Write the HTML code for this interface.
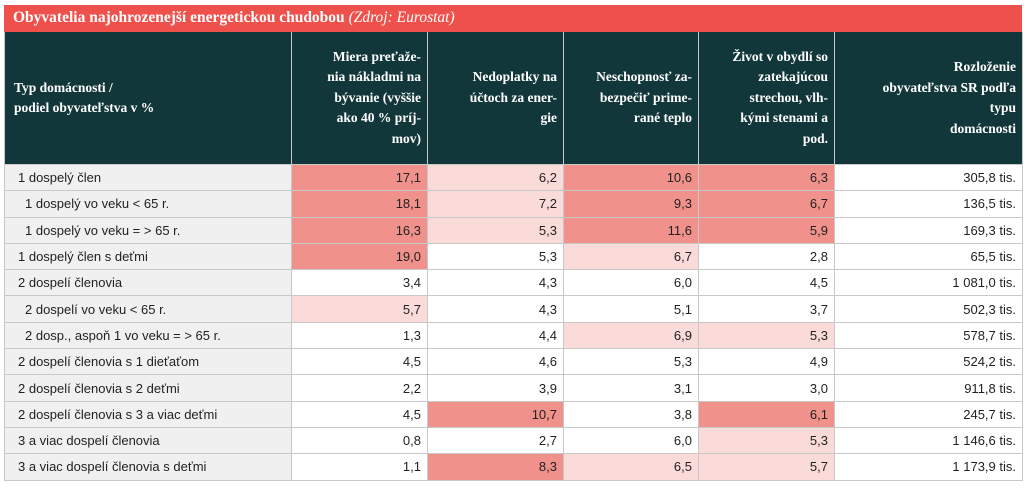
<!DOCTYPE html>
<html><head><meta charset="utf-8"><style>
body{margin:0;width:1024px;height:488px;background:#fff;overflow:hidden;position:relative}
.title{position:absolute;left:4px;top:5px;width:1018px;height:27px;background:#ee514b;color:#fff;font:bold 15.5px "Liberation Serif",serif;line-height:26px;box-sizing:border-box;padding-left:9px}
.title i{font-weight:normal}
table{position:absolute;left:4px;top:32px;border-collapse:collapse;table-layout:fixed;width:1018px}
th{background:#12373a;color:#fff;font:bold 13.5px "Liberation Serif",serif;line-height:20.5px;text-align:right;padding:0 6px;height:132px;border:1px solid #c8c8c8;border-top:none;vertical-align:middle}
th.first{text-align:left;padding-left:9px}
td{height:25.3px;padding:0 6px;font:13px "Liberation Sans",sans-serif;color:#222;text-align:right;border:1px solid #c8c8c8}
td.lab{text-align:left;background:#f0f0f0;padding-left:13px}
td.ind{padding-left:20px}
.s{background:#f1918b}.l{background:#fadbd9}
</style></head><body>
<div class="title">Obyvatelia najohrozenejší energetickou chudobou <i>(Zdroj: Eurostat)</i></div>
<table>
<colgroup><col style="width:287px"><col style="width:136px"><col style="width:136px"><col style="width:135px"><col style="width:136px"><col style="width:188px"></colgroup>
<thead><tr>
<th class="first">Typ domácnosti /<br>podiel obyvateľstva v %</th>
<th>Miera preťaže-<br>nia nákladmi na<br>bývanie (vyššie<br>ako 40 % príj-<br>mov)</th>
<th>Nedoplatky na<br>účtoch za ener-<br>gie</th>
<th>Neschopnosť za-<br>bezpečiť prime-<br>rané teplo</th>
<th>Život v obydlí so<br>zatekajúcou<br>strechou, vlh-<br>kými stenami a<br>pod.</th>
<th>Rozloženie<br>obyvateľstva SR podľa<br>typu<br>domácnosti</th>
</tr></thead>
<tbody id="tb"></tbody></table>
<script>
const labels=["1 dospelý člen","1 dospelý vo veku < 65 r.","1 dospelý vo veku = > 65 r.","1 dospelý člen s deťmi","2 dospelí členovia","2 dospelí vo veku < 65 r.","2 dosp., aspoň 1 vo veku = > 65 r.","2 dospelí členovia s 1 dieťaťom","2 dospelí členovia s 2 deťmi","2 dospelí členovia s 3 a viac deťmi","3 a viac dospelí členovia","3 a viac dospelí členovia s deťmi"];
const indent=[0,1,1,0,0,1,1,0,0,0,0,0];
const housing=["17,1","18,1","16,3","19,0","3,4","5,7","1,3","4,5","2,2","4,5","0,8","1,1"];
const arrears=["6,2","7,2","5,3","5,3","4,3","4,3","4,4","4,6","3,9","10,7","2,7","8,3"];
const heating=["10,6","9,3","11,6","6,7","6,0","5,1","6,9","5,3","3,1","3,8","6,0","6,5"];
const roof=["6,3","6,7","5,9","2,8","4,5","3,7","5,3","4,9","3,0","6,1","5,3","5,7"];
const population=["305,8 tis.","136,5 tis.","169,3 tis.","65,5 tis.","1 081,0 tis.","502,3 tis.","578,7 tis.","524,2 tis.","911,8 tis.","245,7 tis.","1 146,6 tis.","1 173,9 tis."];
const shade=[["s","l","s","s"],["s","l","s","s"],["s","l","s","s"],["s","","l",""],["","","",""],["l","","",""],["","","l","l"],["","","",""],["","","",""],["","s","","s"],["","","","l"],["","s","l","l"]];
const tb=document.getElementById('tb');
const cols=[housing,arrears,heating,roof];
const names=['housing','arrears','heating','roof'];
labels.forEach((lab,i)=>{
 const tr=document.createElement('tr');
 
 
 const td=document.createElement('td');
 td.className='lab'+(indent[i]?' ind':'');
 td.textContent=lab;
 
 
 tr.appendChild(td);
 cols.forEach((c,j)=>{
  const d=document.createElement('td');
  d.textContent=c[i];
  if(shade[i][j])d.className=shade[i][j];
  
  
  tr.appendChild(d);
 });
 const p=document.createElement('td');
 p.textContent=population[i];
 
 
 tr.appendChild(p);
 tb.appendChild(tr);
});
</script>
</body></html>
